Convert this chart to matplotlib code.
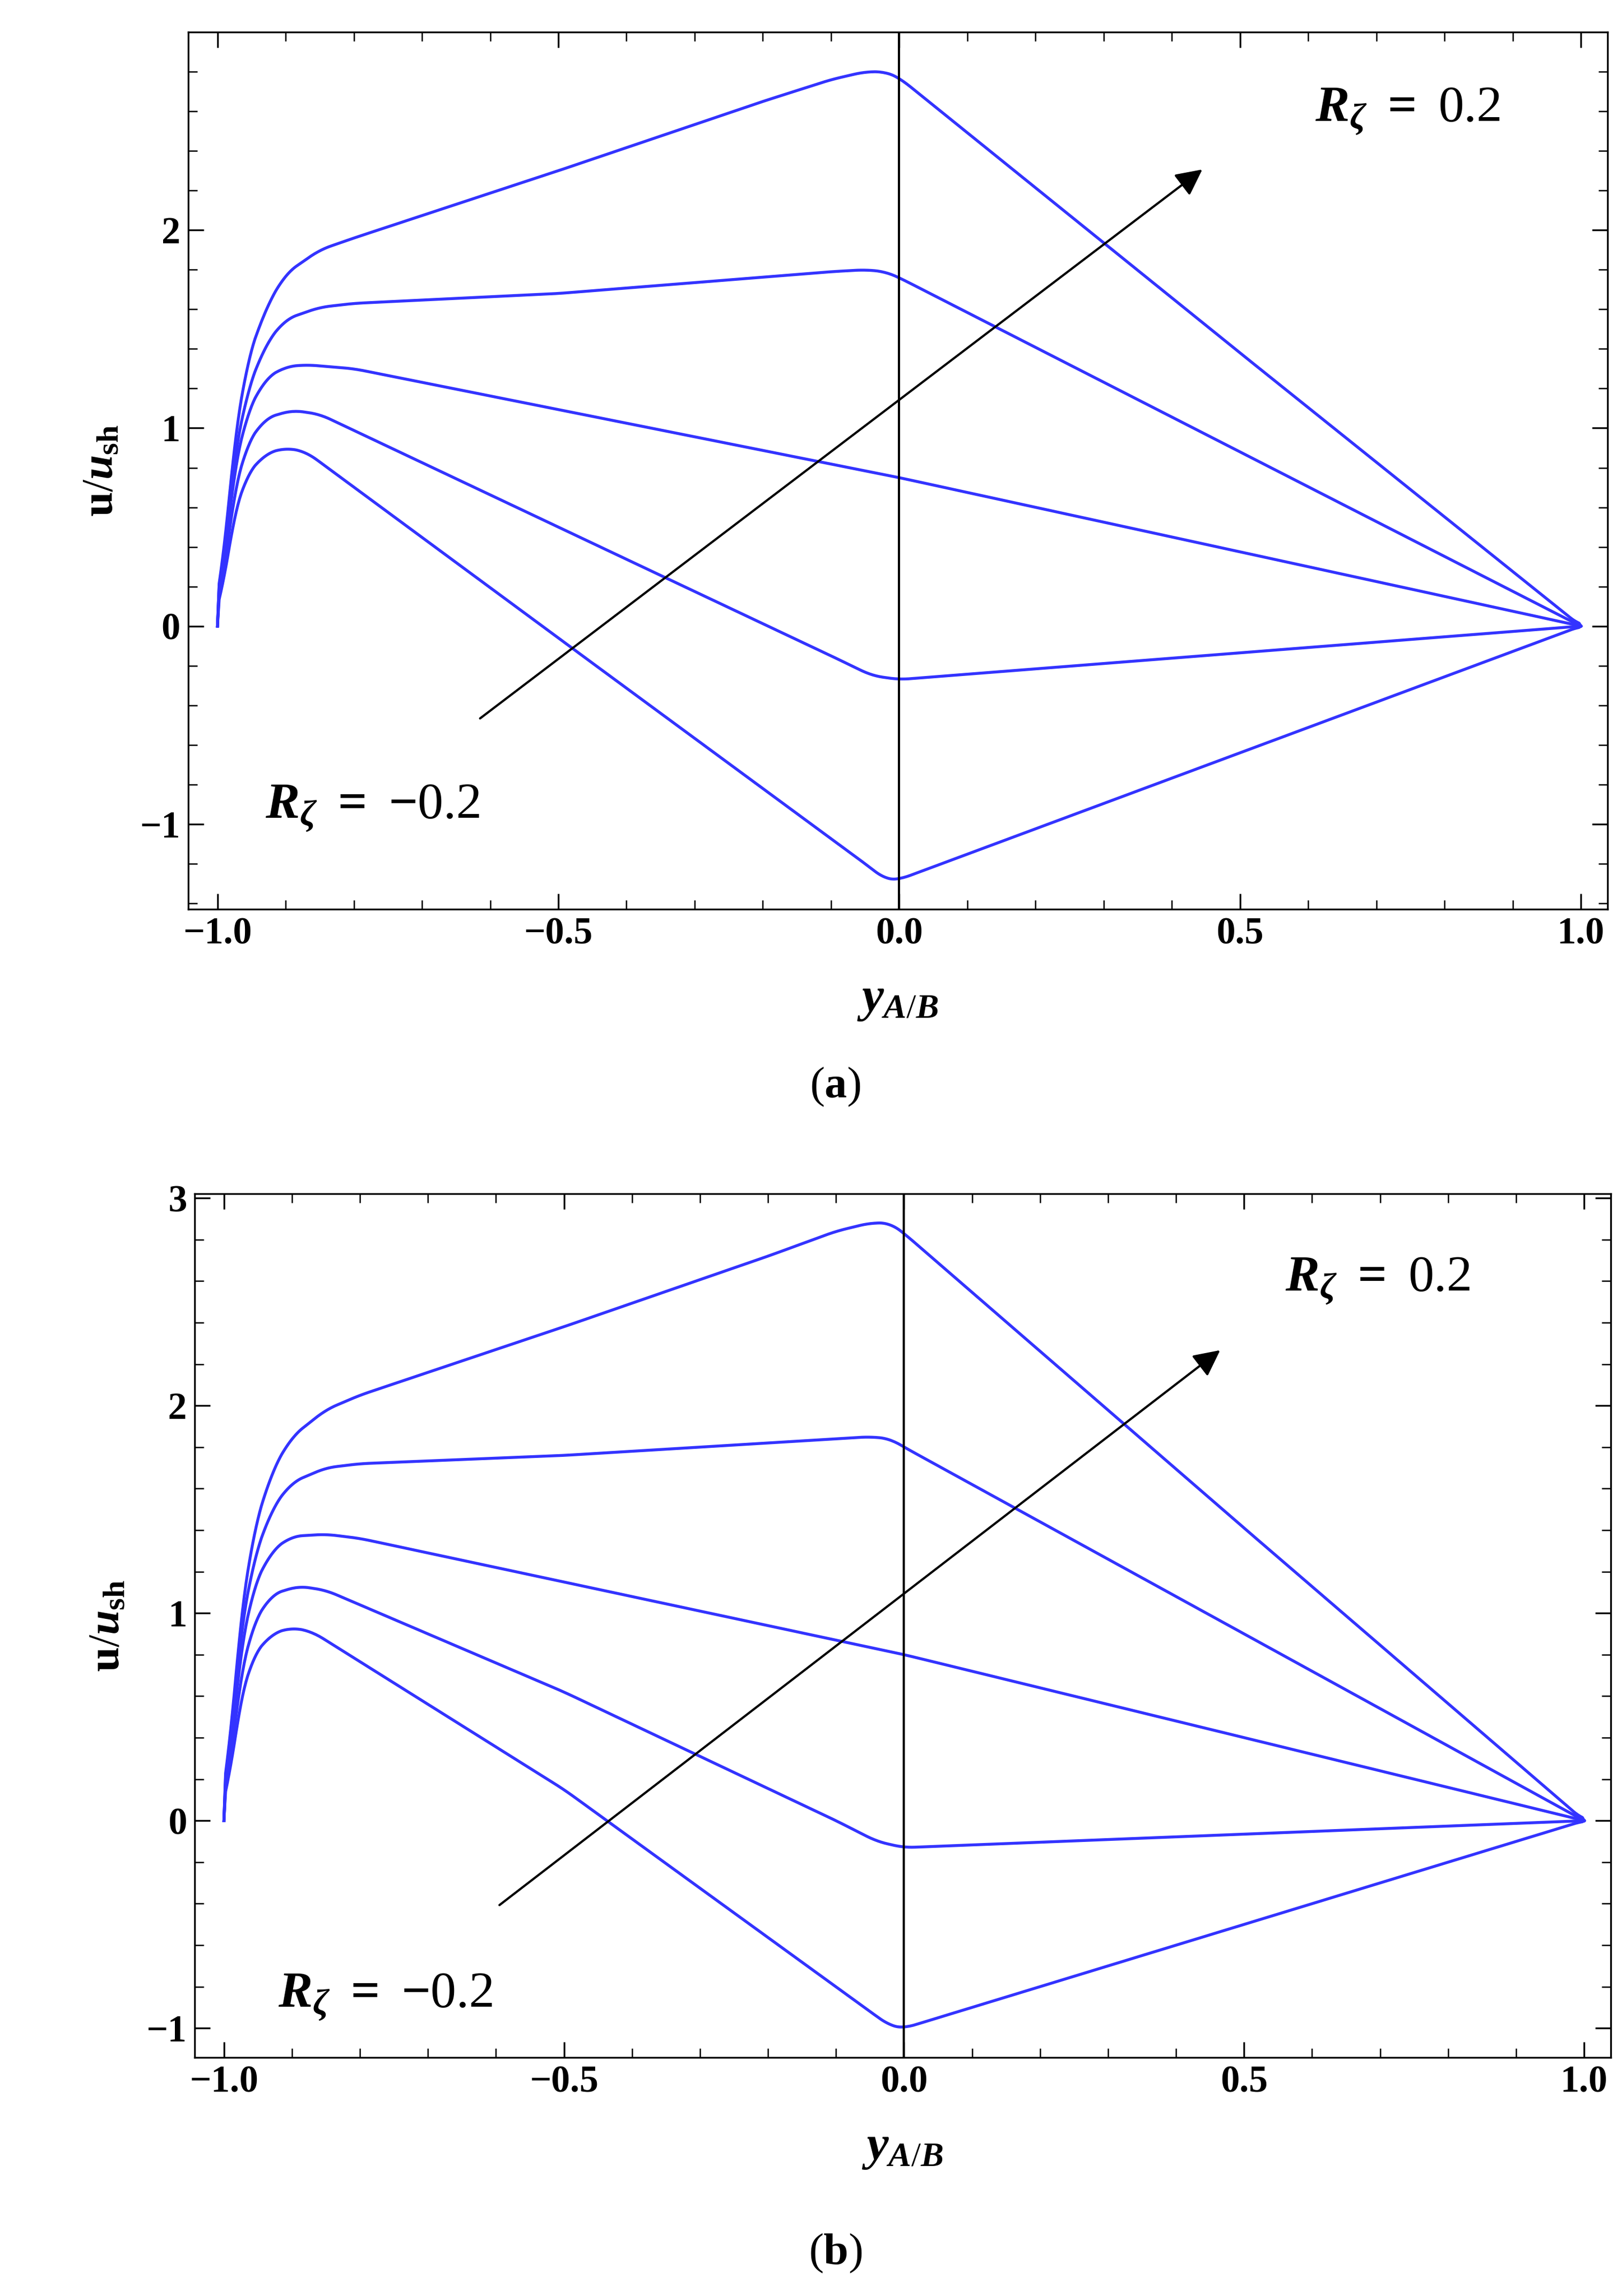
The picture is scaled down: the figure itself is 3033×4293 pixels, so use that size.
import numpy as np
import matplotlib.pyplot as plt
from matplotlib.ticker import MultipleLocator

plt.rcParams['font.family'] = ['Liberation Serif', 'DejaVu Serif']
plt.rcParams['mathtext.fontset'] = 'custom'
plt.rcParams['mathtext.rm'] = 'Liberation Serif'
plt.rcParams['mathtext.it'] = 'Liberation Serif:italic:bold'
plt.rcParams['mathtext.bf'] = 'Liberation Serif:bold'

# panel (a) curves: (x, u/u_sh)
a_x = [
    [-1, -0.98, -0.96, -0.93, -0.9, -0.85, -0.8, -0.5, -0.2, -0.1, -0.05, -0.02, 0, 0.5, 1],
    [-1, -0.98, -0.96, -0.93, -0.9, -0.85, -0.8, -0.5, -0.1, -0.05, -0.02, 0, 1],
    [-1, -0.98, -0.96, -0.93, -0.9, -0.87, -0.8, 0, 1],
    [-1, -0.98, -0.96, -0.93, -0.89, -0.85, -0.5, -0.1, -0.04, 0, 1],
    [-1, -0.98, -0.96, -0.93, -0.9, -0.87, -0.5, -0.05, -0.02, 0, 1],
]
a_y = [
    [0, 0.8, 1.3, 1.6, 1.78, 1.9, 1.96, 2.3, 2.65, 2.76, 2.8, 2.8, 2.77, 1.38, 0],
    [0, 0.75, 1.15, 1.42, 1.55, 1.61, 1.63, 1.68, 1.79, 1.8, 1.79, 1.76, 0],
    [0, 0.7, 1.05, 1.25, 1.31, 1.32, 1.3, 0.75, 0],
    [0, 0.6, 0.9, 1.05, 1.09, 1.07, 0.5, -0.15, -0.25, -0.27, 0],
    [0, 0.5, 0.75, 0.87, 0.9, 0.88, -0.06, -1.2, -1.28, -1.28, 0],
]
# panel (b) curves
b_x = [
    [-1, -0.98, -0.96, -0.93, -0.9, -0.85, -0.8, -0.5, -0.2, -0.1, -0.05, -0.02, 0, 0.5, 1],
    [-1, -0.98, -0.96, -0.93, -0.9, -0.85, -0.8, -0.5, -0.1, -0.05, -0.02, 0, 1],
    [-1, -0.98, -0.96, -0.93, -0.9, -0.85, -0.8, 0, 1],
    [-1, -0.98, -0.96, -0.93, -0.89, -0.85, -0.5, -0.1, -0.04, 0, 1],
    [-1, -0.98, -0.96, -0.93, -0.9, -0.87, -0.5, -0.05, -0.02, 0, 1],
]
b_y = [
    [0, 0.85, 1.35, 1.68, 1.85, 1.98, 2.05, 2.38, 2.72, 2.84, 2.88, 2.88, 2.83, 1.41, 0],
    [0, 0.8, 1.22, 1.5, 1.63, 1.7, 1.72, 1.76, 1.84, 1.85, 1.84, 1.8, 0],
    [0, 0.72, 1.1, 1.3, 1.37, 1.38, 1.36, 0.8, 0],
    [0, 0.62, 0.93, 1.09, 1.13, 1.11, 0.62, 0.0, -0.1, -0.13, 0],
    [0, 0.52, 0.78, 0.9, 0.93, 0.91, 0.15, -0.92, -0.99, -1.0, 0],
]

def smooth(xs, ys, n=800):
    # light smoothing of the piecewise line by a short moving average
    xx = np.linspace(-1, 1, n)
    yy = np.interp(xx, xs, ys)
    k = 6
    pad = np.pad(yy, k, mode='edge')
    ys2 = np.convolve(pad, np.ones(2 * k + 1) / (2 * k + 1), mode='valid')
    ys2[0] = ys[0]
    ys2[-1] = ys[-1]
    return xx, ys2

fig = plt.figure(figsize=(3033 / 300, 4293 / 300), dpi=300)

panels = [
    dict(rect=[0.116, 0.604, 0.875, 0.382], xs=a_x, ys=a_y, ylim=(-1.43, 3.0),
         yticks=[-1, 0, 1, 2], arrow=((-0.62, -0.48), (0.45, 2.32)),
         top=(0.61, 2.6), bot=(-0.93, -0.92), cap='a', capy=0.522),
    dict(rect=[0.12, 0.104, 0.873, 0.376], xs=b_x, ys=b_y, ylim=(-1.14, 3.02),
         yticks=[-1, 0, 1, 2, 3], arrow=((-0.6, -0.42), (0.47, 2.28)),
         top=(0.56, 2.6), bot=(-0.92, -0.85), cap='b', capy=0.014),
]

for p in panels:
    ax = fig.add_axes(p['rect'])
    for xs, ys in zip(p['xs'], p['ys']):
        xx, yy = smooth(xs, ys)
        ax.plot(xx, yy, color='#3333ff', lw=1.3)
    ax.axvline(0, color='black', lw=1.0)
    ax.set_xlim(-1.043, 1.039)
    ax.set_ylim(*p['ylim'])
    ax.set_xticks([-1.0, -0.5, 0.0, 0.5, 1.0])
    ax.set_xticklabels(['\u22121.0', '\u22120.5', '0.0', '0.5', '1.0'])
    ax.set_yticks(p['yticks'])
    ax.set_yticklabels([str(t).replace('-', '\u2212') for t in p['yticks']])
    ax.xaxis.set_minor_locator(MultipleLocator(0.1))
    ax.yaxis.set_minor_locator(MultipleLocator(0.2))
    ax.tick_params(which='both', direction='in', top=True, right=True, labelsize=17)
    ax.tick_params(which='major', length=7)
    ax.tick_params(which='minor', length=4)
    for t in ax.get_xticklabels() + ax.get_yticklabels():
        t.set_fontweight('bold')
    ax.set_ylabel(r'$\mathbf{u}/u_{\mathrm{\mathbf{sh}}}$', fontsize=20, labelpad=8)
    ax.set_xlabel(r'$y_{A/B}$', fontsize=22, labelpad=12)
    (x0, y0), (x1, y1) = p['arrow']
    ax.annotate('', xy=(x1, y1), xytext=(x0, y0),
                arrowprops=dict(arrowstyle='-|>', color='black', lw=1.0,
                                mutation_scale=25))
    ax.text(*p['top'], r'$R_\zeta\ \mathbf{=}\ \mathit{0.2}$', fontsize=23,
            ha='left', va='center')
    ax.text(*p['bot'], r'$R_\zeta\ \mathbf{=}\ \mathbf{-}\mathit{0.2}$', fontsize=23,
            ha='left', va='center')
    fig.text(0.515, p['capy'], '(' + r'$\mathbf{' + p['cap'] + '}$' + ')',
             fontsize=20, ha='center')

fig.savefig('out.png', dpi=300)
